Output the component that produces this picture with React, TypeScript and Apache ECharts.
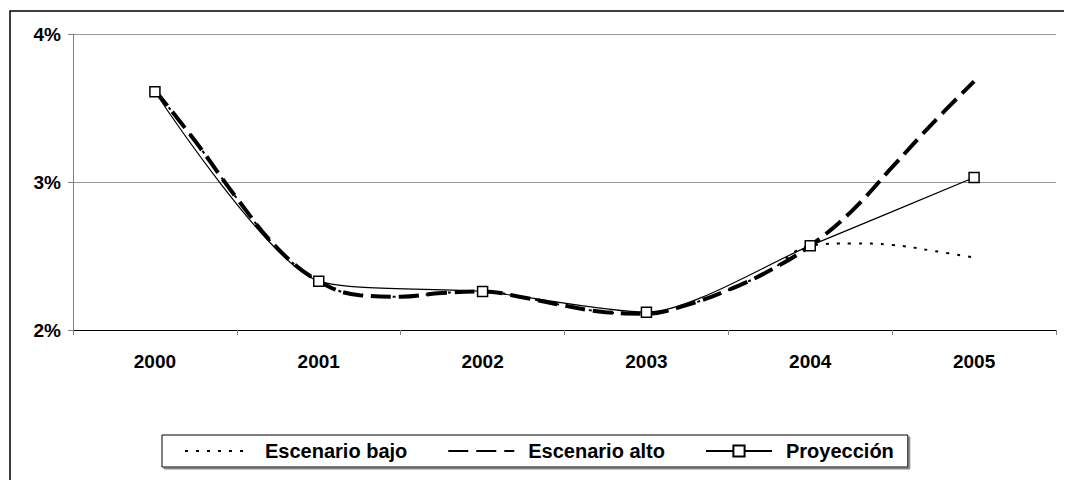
import React, { useEffect, useRef } from "react";
import * as echarts from "echarts";

const years = ["2000", "2001", "2002", "2003", "2004", "2005"];
const proyeccion = [3.61, 2.33, 2.26, 2.12, 2.57, 3.03];
// quarterly readings, position 0 = 2000 ... 5 = 2005
const altoQuarterly = [
  3.62, 3.27, 2.89, 2.55, 2.33, 2.235, 2.225, 2.25, 2.26, 2.22, 2.165, 2.12,
  2.11, 2.17, 2.27, 2.4, 2.57, 2.8, 3.1, 3.4, 3.68,
];
const bajoQuarterly = [
  3.62, 3.27, 2.89, 2.55, 2.33, 2.235, 2.225, 2.25, 2.26, 2.22, 2.165, 2.12,
  2.11, 2.17, 2.27, 2.4, 2.57, 2.585, 2.575, 2.535, 2.49,
];
const yTicks = [2, 3, 4];

const FONT = "'Liberation Sans', Arial, sans-serif";

export default function App() {
  const ref = useRef<HTMLDivElement>(null);
  useEffect(() => {
    if (!ref.current) return;
    const chart = echarts.init(ref.current, null, { renderer: "svg" });
    const toPts = (arr: number[]) => arr.map((v, i) => [i / 4, v]);
    chart.setOption({
      animation: false,
      backgroundColor: "#fff",
      graphic: [
        {
          type: "rect",
          shape: { x: 2, y: 3, width: 1300, height: 700 },
          style: { fill: "none", stroke: "#000", lineWidth: 1.5 },
          z: 100,
        },
      ],
      grid: { left: 65, top: 26, right: 16, bottom: 150 },
      xAxis: [
        {
          type: "category",
          data: years,
          boundaryGap: true,
          axisLine: { lineStyle: { color: "#000", width: 1 } },
          axisTick: { show: true, length: 5, lineStyle: { color: "#808080" } },
          axisLabel: {
            margin: 22,
            fontSize: 19,
            fontWeight: "bold",
            fontFamily: FONT,
            color: "#000",
          },
          splitLine: { show: false },
        },
        {
          type: "value",
          min: -0.5,
          max: 5.5,
          show: false,
          splitLine: { show: false },
        },
      ],
      yAxis: {
        type: "value",
        min: yTicks[0],
        max: yTicks[yTicks.length - 1],
        interval: 1,
        axisLine: { show: true, onZero: false, lineStyle: { color: "#808080" } },
        axisTick: { show: true, length: 5, lineStyle: { color: "#808080" } },
        axisLabel: {
          margin: 12,
          fontSize: 19,
          fontWeight: "bold",
          fontFamily: FONT,
          color: "#000",
          formatter: (v: number) => `${v}%`,
        },
        splitLine: { show: true, lineStyle: { color: "#999", width: 1 } },
      },
      legend: {
        left: 154,
        top: 427,
        orient: "horizontal",
        padding: [6, 14, 6, 22],
        itemGap: 40,
        itemWidth: 66,
        itemHeight: 14,
        borderColor: "#000",
        borderWidth: 1,
        backgroundColor: "#fff",
        shadowColor: "#888",
        shadowOffsetX: 2,
        shadowOffsetY: 2,
        shadowBlur: 0,
        textStyle: {
          fontSize: 20,
          fontWeight: "bold",
          fontFamily: FONT,
          color: "#000",
          padding: [0, 0, 0, 9],
        },
        data: ["Escenario bajo", "Escenario alto", "Proyección"],
      },
      series: [
        {
          name: "Escenario bajo",
          type: "line",
          xAxisIndex: 1,
          data: toPts(bajoQuarterly),
          smooth: 0.4,
          symbol: "none",
          lineStyle: { color: "#000", width: 2, type: [3, 8] },
          itemStyle: { color: "rgba(0,0,0,0)", borderWidth: 0 },
          z: 2,
        },
        {
          name: "Escenario alto",
          type: "line",
          xAxisIndex: 1,
          data: toPts(altoQuarterly),
          smooth: 0.4,
          symbol: "none",
          lineStyle: { color: "#000", width: 4, type: [20, 8] },
          itemStyle: { color: "rgba(0,0,0,0)", borderWidth: 0 },
          z: 3,
        },
        {
          name: "Proyección",
          type: "line",
          xAxisIndex: 1,
          data: proyeccion.map((v, i) => [i, v]),
          smooth: 0.25,
          symbol: "rect",
          symbolSize: 10,
          showSymbol: true,
          lineStyle: { color: "#000", width: 1.2 },
          itemStyle: { color: "#fff", borderColor: "#000", borderWidth: 1.5 },
          z: 4,
        },
      ],
    });
    return () => chart.dispose();
  }, []);
  return <div ref={ref} style={{ width: 1064, height: 472 }} />;
}
